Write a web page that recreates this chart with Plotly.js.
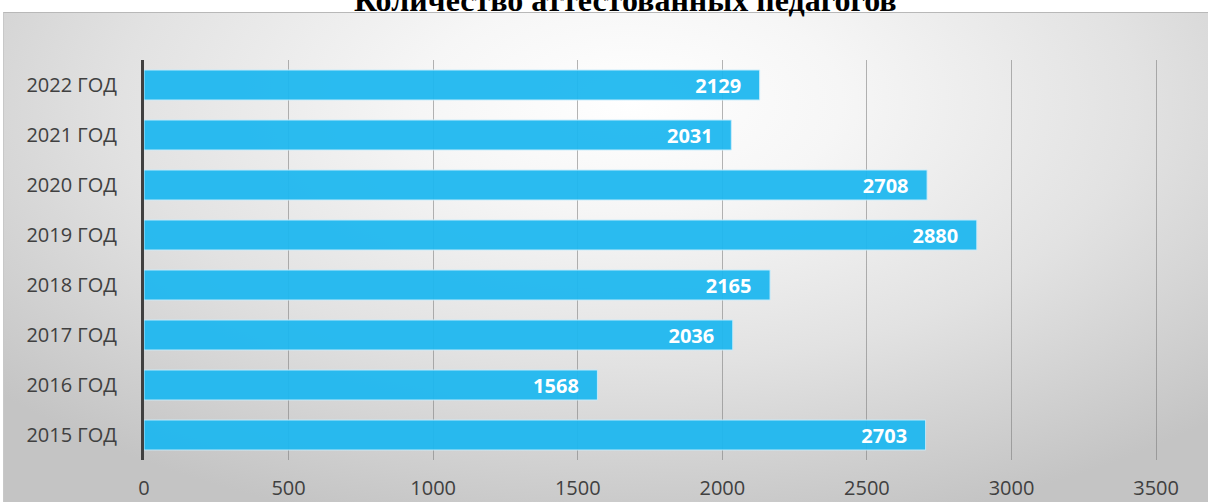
<!DOCTYPE html>
<html><head><meta charset="utf-8">
<script src="https://cdn.plot.ly/plotly-3.0.1.min.js"></script>
<style>
html,body{margin:0;padding:0;background:#fff;}
#bg{position:absolute;left:3px;top:12px;width:1205px;height:490px;border-top:1px solid #b8b8b8;border-left:1px solid #c8c8c8;
background:radial-gradient(ellipse 70% 90% at 52% 18%, #ffffff 0%, #f6f6f6 25%, #e2e2e2 60%, #c4c4c4 100%);}
#chart{position:absolute;left:0;top:0;width:1208px;height:502px;}
</style></head>
<body>
<div id="bg"></div>
<div id="chart"></div>
<script>
const categories = ["2015 ГОД","2016 ГОД","2017 ГОД","2018 ГОД","2019 ГОД","2020 ГОД","2021 ГОД","2022 ГОД"];
const values = [2703,1568,2036,2165,2880,2708,2031,2129];
const tickVals = [0,500,1000,1500,2000,2500,3000,3500];
const titleText = "Количество аттестованных педагогов";

const trace = {
  type:'bar', orientation:'h', y:categories, x:values,
  texttemplate:'%{x}\u00a0\u00a0\u00a0', textposition:'inside', insidetextanchor:'end', constraintext:'none',
  textfont:{family:'Open Sans, sans-serif', size:20, color:'#ffffff', weight:'bold'},
  marker:{color:'#1EB8F0', opacity:0.94, line:{color:'rgba(200,236,252,0.95)', width:1}},
  hoverinfo:'none', cliponaxis:false
};
const layout = {
  width:1208, height:502,
  margin:{l:144, r:49, t:60, b:42},
  paper_bgcolor:'rgba(0,0,0,0)', plot_bgcolor:'rgba(0,0,0,0)',
  showlegend:false, bargap:0.4,
  xaxis:{range:[0,3510], tickvals:tickVals, ticktext:tickVals.map(String), showgrid:true,
    gridcolor:'rgba(120,120,120,0.55)', gridwidth:1, zeroline:false, showline:false,
    tickfont:{family:'Open Sans, sans-serif', size:20, color:'#404040'}, ticks:'', ticklabelstandoff:14, fixedrange:true},
  yaxis:{type:'category', categoryorder:'array', categoryarray:categories, range:[-0.5,7.5],
    showline:true, linecolor:'#404040', linewidth:3, showgrid:false, zeroline:false, ticks:'',
    tickfont:{family:'Open Sans, sans-serif', size:20, color:'#404040'}, ticklabelstandoff:20, fixedrange:true},
  annotations:[{text:titleText, xref:'paper', yref:'paper', x:0.474, y:1, yshift:60, yanchor:'middle', xanchor:'center',
    showarrow:false, font:{family:'Liberation Serif, Times New Roman, serif', size:32, color:'#000', weight:'bold'}}]
};
Plotly.newPlot('chart',[trace],layout,{displayModeBar:false, staticPlot:true});
</script>
</body></html>
